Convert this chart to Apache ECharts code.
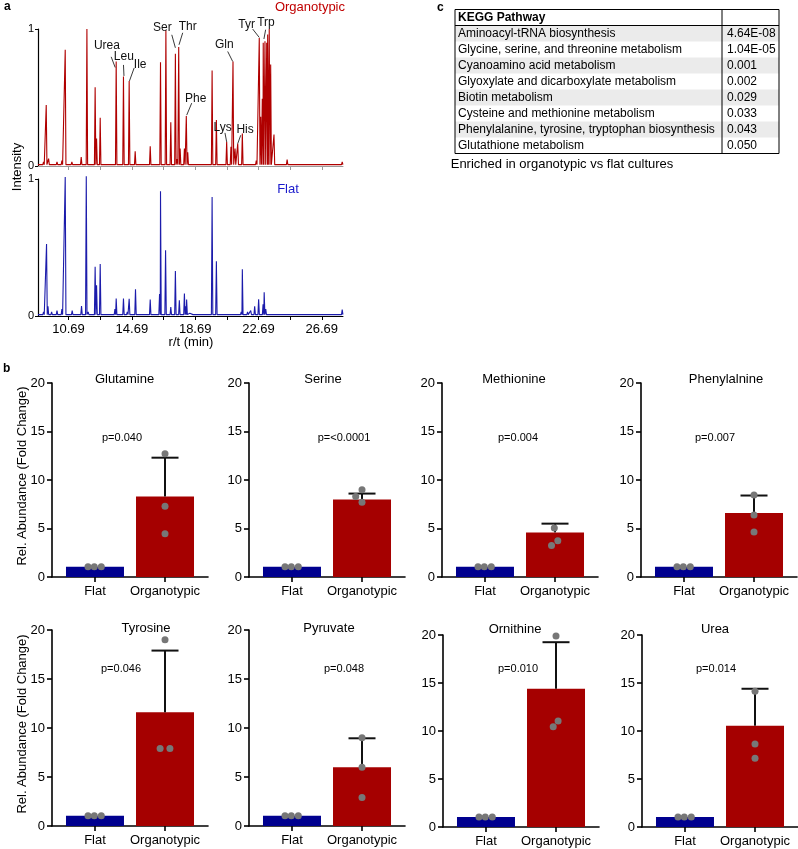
<!DOCTYPE html>
<html><head><meta charset="utf-8">
<script src="https://cdn.jsdelivr.net/npm/echarts@6/dist/echarts.min.js"></script>
<style>html,body{margin:0;padding:0;background:#fff}#c{width:798px;height:849px}</style>
</head><body><div id="c"></div>
<script>
// ---------- DATA ----------
// Panel a: chromatogram peaks (retention time in min, normalised intensity)
const organotypicTimes = [9.11,9.28,9.43,9.96,10.27,10.48,10.90,11.49,11.85,11.95,12.37,12.46,12.69,13.50,13.70,14.16,14.52,14.90,15.85,16.30,16.50,16.84,17.15,17.44,17.55,17.65,17.74,18.01,18.13,18.22,19.76,20.03,20.68,20.95,21.08,21.21,21.38,21.67,22.55,22.74,22.83,22.93,22.99,23.10,23.21,23.27,23.37,23.46,23.67,24.50,25.50,27.98];
const organotypicHeights = [0.03,0.445,0.054,0.03,0.04,0.848,0.03,0.066,1.0,0.02,0.575,0.2,0.352,0.02,0.763,0.653,0.621,0.108,0.144,0.02,0.758,0.99,0.32,0.819,0.05,0.868,0.127,0.127,0.364,0.1,0.697,0.335,0.176,0.14,0.763,0.127,0.164,0.237,0.04,0.934,0.36,0.49,0.9,0.91,0.9,0.96,1.0,0.74,0.23,0.046,0.015,0.03];
const flatTimes = [9.11,9.30,9.39,9.62,9.96,10.27,10.48,10.92,11.51,11.81,11.93,12.37,12.46,12.69,13.05,13.62,13.70,14.16,14.40,14.52,14.92,15.85,16.07,16.44,16.50,16.82,17.15,17.44,17.69,18.01,18.09,18.15,18.35,18.60,19.76,20.03,21.40,21.60,21.67,22.00,22.20,22.45,22.70,22.98,23.05,23.15,23.80,24.50,24.80,25.80,27.98];
const flatHeights = [0.03,0.526,0.07,0.03,0.04,0.05,1.015,0.04,0.073,1.02,0.03,0.36,0.225,0.379,0.02,0.05,0.127,0.127,0.03,0.125,0.196,0.12,0.02,0.16,0.91,0.48,0.066,0.328,0.115,0.164,0.07,0.12,0.02,0.015,0.868,0.4,0.02,0.03,0.342,0.03,0.04,0.07,0.122,0.086,0.174,0.05,0.01,0.015,0.015,0.02,0.046];
const peakLabels = ['Urea','Leu','Ile','Ser','Thr','Phe','Gln','Lys','His','Tyr','Trp'];
const peakLabelTimes = [13.70,14.16,14.52,17.44,17.65,18.13,21.08,20.68,21.38,22.74,22.99];
const peakLabelHeights = [0.763,0.653,0.621,0.819,0.868,0.364,0.763,0.176,0.164,0.934,0.9];
const rtTicks = [10.69,12.69,14.69,16.69,18.69,20.69,22.69,24.69,26.69];
const rtLabels = [10.69,14.69,18.69,22.69,26.69];
const intensityTicks = [0,1];

// Panel b: relative abundance
const metabolites = ['Glutamine','Serine','Methionine','Phenylalnine','Tyrosine','Pyruvate','Ornithine','Urea'];
const groups = ['Flat','Organotypic'];
const pTexts = ['p=0.040','p=<0.0001','p=0.004','p=0.007','p=0.046','p=0.048','p=0.010','p=0.014'];
const flatMean = [1.05,1.05,1.05,1.05,1.05,1.05,1.05,1.05];
const flatPoints = [[1.05,1.05,1.05],[1.05,1.05,1.05],[1.05,1.05,1.05],[1.05,1.05,1.05],[1.05,1.05,1.05],[1.05,1.05,1.05],[1.05,1.05,1.05],[1.05,1.05,1.05]];
const orgMean = [8.3,8.0,4.6,6.6,11.6,6.0,14.4,10.55];
const orgUpper = [12.3,8.6,5.5,8.4,17.9,8.95,19.25,14.4];
const orgPoints = [[12.7,7.3,4.45],[9.0,8.3,7.7],[5.05,3.75,3.25],[8.45,6.4,4.65],[19.0,7.9,7.9],[9.0,6.0,2.9],[19.9,11.05,10.45],[14.15,8.65,7.15]];
const yTicks = [0,5,10,15,20];

// Panel c: KEGG table
const pathways = ['Aminoacyl-tRNA biosynthesis','Glycine, serine, and threonine metabolism','Cyanoamino acid metabolism','Glyoxylate and dicarboxylate metabolism','Biotin metabolism','Cysteine and methionine metabolism','Phenylalanine, tyrosine, tryptophan biosynthesis','Glutathione metabolism'];
const pathwayP = ['4.64E-08','1.04E-05','0.001','0.002','0.029','0.033','0.043','0.050'];

// ---------- LAYOUT / STYLE ----------
const FONT = '"Liberation Sans", Arial, Helvetica, sans-serif';
const RED = '#a50000', BLUE = '#00008f', LINE_RED = '#b00000', LINE_BLUE = '#1c1cab';
const RT_MIN = 8.76, RT_MAX = 28.03;
const labelOffsets = [ // text center dx,dy ; line start dx,dy ; line end dx,dy (px from peak tip)
  [-9.3,-16,-5,-4.6,-1,6],
  [0.4,-20,0,-11.6,0.5,-0.6],
  [11,-16,5,-13,0.3,0],
  [-13,-25.7,-3.6,-19,0,-6],
  [9,-20.6,4,-14.3,0.3,-2.3],
  [9.4,-17.7,5.4,-13,0.4,-1],
  [-8.7,-16.6,-5.3,-10,-0.3,0],
  [-4,-14.4,-1.7,-9,0,0],
  [7.3,-14.3,3,-8.3,0,0],
  [-12.6,-13.3,-6.6,-9,0,-0.6],
  [2.7,-19.7,2.4,-13,0.7,-3.7]
];
const barGridLeft = [52,249,442,641,52,249,443,642];
const barGridTop = [383,383,383,383,630,630,635,635];
const barGridHeight = [194,194,194,194,196,196,192,192];
const titleX = [124.5,323,514,726,146,329,515,715];
const titleY = [379,379,379,379,628,628,629,629];
const pX = [122,344,518,715,121,344,518,716];
const pY = [438,438,438,438,669,669,669,669];
const flatJitter = [-0.1,-0.01,0.09];
const orgJitter = [[0,0,0],[0,-0.09,0],[-0.01,0.04,-0.05],[0,0,0],[0,-0.07,0.07],[0,0,0],[0,0.03,-0.04],[0,0,0]];

function spikes(times, heights, base) {
  const pts = [[RT_MIN, base]];
  times.forEach((t, i) => { pts.push([t - 0.045, base], [t, heights[i]], [t + 0.045, base]); });
  pts.push([RT_MAX, base]);
  return pts;
}

const grid = [
  {left:38, top:29, width:305, height:137},
  {left:38, top:179, width:305, height:137}
];
const xAxis = [], yAxis = [], series = [];
function chromX(gi, color, showLabels) {
  return {type:'value', gridIndex:gi, min:RT_MIN, max:RT_MAX,
    axisLine:{show:true, onZero:false, lineStyle:{color:color, width:1}},
    axisTick:{show:true, customValues:rtTicks, length:4, lineStyle:{color:color}},
    axisLabel:{show:showLabels, customValues:rtLabels, formatter:v=>Number(v).toFixed(2), fontSize:13, color:'#000', margin:7, fontFamily:FONT},
    splitLine:{show:false}};
}
function chromY(gi) {
  return {type:'value', gridIndex:gi, min:0, max:1,
    axisLine:{show:true, lineStyle:{color:'#000', width:1.2}},
    axisTick:{show:true, customValues:intensityTicks, length:3, lineStyle:{color:'#000'}},
    axisLabel:{customValues:intensityTicks, fontSize:11, color:'#000', margin:4, fontFamily:FONT},
    splitLine:{show:false}};
}
xAxis.push(chromX(0,'#999',false), chromX(1,'#000',true));
yAxis.push(chromY(0), chromY(1));
series.push({type:'line', xAxisIndex:0, yAxisIndex:0, data:spikes(organotypicTimes, organotypicHeights, 0.01), showSymbol:false, clip:false, lineStyle:{color:LINE_RED, width:1.1}, animation:false});
series.push({type:'line', xAxisIndex:1, yAxisIndex:1, data:spikes(flatTimes, flatHeights, 0.01), showSymbol:false, clip:false, lineStyle:{color:LINE_BLUE, width:1.1}, animation:false});
series.push({type:'custom', xAxisIndex:0, yAxisIndex:0, clip:false, animation:false, z:5,
  data: peakLabelTimes.map((t,i)=>[t, peakLabelHeights[i]]),
  renderItem:(params, api)=>{
    const p = api.coord([api.value(0), api.value(1)]);
    const o = labelOffsets[params.dataIndex];
    return {type:'group', children:[
      {type:'line', shape:{x1:p[0]+o[2], y1:p[1]+o[3], x2:p[0]+o[4], y2:p[1]+o[5]}, style:{stroke:'#222', lineWidth:0.9}},
      {type:'text', style:{x:p[0]+o[0], y:p[1]+o[1], text:peakLabels[params.dataIndex], font:'12px '+FONT, fill:'#111', align:'center', verticalAlign:'middle', textAlign:'center', textVerticalAlign:'middle'}}
    ]};
  }});

metabolites.forEach((m, k) => {
  const gi = 2 + k;
  grid.push({left:barGridLeft[k], top:barGridTop[k], width:156, height:barGridHeight[k]});
  xAxis.push({type:'value', gridIndex:gi, min:0.386, max:2.614,
    axisLine:{show:true, onZero:false, lineStyle:{color:'#000', width:1.6}},
    axisTick:{show:true, customValues:[1,2], length:5, lineStyle:{color:'#000', width:1.6}},
    axisLabel:{customValues:[1,2], formatter:v=>groups[Math.round(v)-1], fontSize:13, color:'#000', margin:8, fontFamily:FONT},
    splitLine:{show:false}});
  yAxis.push({type:'value', gridIndex:gi, min:0, max:20, interval:5,
    axisLine:{show:true, lineStyle:{color:'#000', width:1.6}},
    axisTick:{show:true, length:5, lineStyle:{color:'#000', width:1.6}},
    axisLabel:{fontSize:13, color:'#000', margin:7, fontFamily:FONT},
    splitLine:{show:false}});
  series.push({type:'bar', xAxisIndex:gi, yAxisIndex:gi, barWidth:58, animation:false, z:2,
    data:[{value:[1, flatMean[k]], itemStyle:{color:BLUE}}, {value:[2, orgMean[k]], itemStyle:{color:RED}}]});
  series.push({type:'custom', xAxisIndex:gi, yAxisIndex:gi, animation:false, z:3, clip:false,
    data:[[2, orgMean[k], orgUpper[k]]],
    renderItem:(params, api)=>{
      const b = api.coord([api.value(0), api.value(1)]);
      const t = api.coord([api.value(0), api.value(2)]);
      return {type:'group', children:[
        {type:'line', shape:{x1:b[0], y1:b[1], x2:t[0], y2:t[1]}, style:{stroke:'#111', lineWidth:2}},
        {type:'line', shape:{x1:t[0]-13.5, y1:t[1], x2:t[0]+13.5, y2:t[1]}, style:{stroke:'#111', lineWidth:2}}
      ]};
    }});
  const pts = [];
  flatPoints[k].forEach((v,i)=>pts.push([1+flatJitter[i], v]));
  orgPoints[k].forEach((v,i)=>pts.push([2+orgJitter[k][i], v]));
  series.push({type:'scatter', xAxisIndex:gi, yAxisIndex:gi, data:pts, symbolSize:7, itemStyle:{color:'#777', opacity:1}, animation:false, z:4, clip:false});
});

// ---------- GRAPHIC (texts & table) ----------
const g = [];
function txt(x, y, text, font, fill, align, rot) {
  const e = {type:'text', x:x, y:y, style:{text:text, font:font, fill:fill||'#000', align:align||'center', verticalAlign:'middle', textAlign:align||'center', textVerticalAlign:'middle'}};
  if (rot) e.rotation = rot;
  g.push(e);
}
txt(4, 7, 'a', 'bold 12px '+FONT, '#000', 'left');
txt(3, 369, 'b', 'bold 12px '+FONT, '#000', 'left');
txt(437, 8, 'c', 'bold 12px '+FONT, '#000', 'left');
txt(345, 7, 'Organotypic', '13px '+FONT, '#c00000', 'right');
txt(288, 189, 'Flat', '13px '+FONT, '#1a1acc', 'center');
txt(17, 167, 'Intensity', '13px '+FONT, '#000', 'center', Math.PI/2);
txt(191, 342, 'r/t (min)', '13px '+FONT, '#000', 'center');
metabolites.forEach((m,k)=>{
  txt(titleX[k], titleY[k], m, '13px '+FONT, '#000', 'center');
  txt(pX[k], pY[k], pTexts[k], '11px '+FONT, '#000', 'center');
});
txt(22, 476, 'Rel. Abundance (Fold Change)', '13px '+FONT, '#000', 'center', Math.PI/2);
txt(22, 724, 'Rel. Abundance (Fold Change)', '13px '+FONT, '#000', 'center', Math.PI/2);

// table
const TX0 = 455, TX1 = 722, TX2 = 779, TY0 = 9.5, RH = 16;
pathways.forEach((p,i)=>{
  const y = TY0 + RH*(i+1);
  if (i % 2 === 0) g.push({type:'rect', shape:{x:TX0, y:y, width:TX2-TX0, height:RH}, style:{fill:'#ebebeb'}});
  txt(TX0+3, y+RH/2+0.5, p, '12px '+FONT, '#000', 'left');
  txt(TX1+5, y+RH/2+0.5, pathwayP[i], '12px '+FONT, '#000', 'left');
});
txt(TX0+3, TY0+RH/2+0.5, 'KEGG Pathway', 'bold 12px '+FONT, '#000', 'left');
g.push({type:'rect', shape:{x:TX0, y:TY0, width:TX2-TX0, height:RH*9}, style:{fill:'none', stroke:'#000', lineWidth:1}});
g.push({type:'line', shape:{x1:TX0, y1:TY0+RH, x2:TX2, y2:TY0+RH}, style:{stroke:'#000', lineWidth:1}});
g.push({type:'line', shape:{x1:TX1, y1:TY0, x2:TX1, y2:TY0+RH*9}, style:{stroke:'#000', lineWidth:1}});
txt(562, 164, 'Enriched in organotypic vs flat cultures', '13px '+FONT, '#000', 'center');

const chart = echarts.init(document.getElementById('c'), null, {renderer:'canvas'});
chart.setOption({
  backgroundColor:'#fff',
  animation:false,
  textStyle:{fontFamily:FONT},
  grid:grid, xAxis:xAxis, yAxis:yAxis, series:series,
  graphic:{elements:g}
});
</script></body></html>
